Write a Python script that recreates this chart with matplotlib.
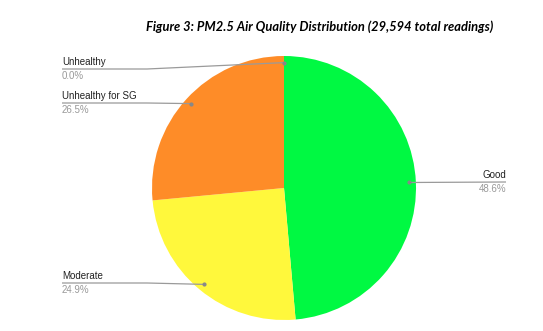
import numpy as np
import matplotlib
matplotlib.use("Agg")
import matplotlib.pyplot as plt

# PM2.5 air quality distribution, share of readings per category
categories = ["Good", "Moderate", "Unhealthy for SG", "Unhealthy"]
shares = [48.6, 24.9, 26.5, 0.0]
colors = ["#00f942", "#fff83c", "#fe8c28", "#e02020"]
title = "Figure 3: PM2.5 Air Quality Distribution (29,594 total readings)"

W, H = 543, 331
fig = plt.figure(figsize=(W / 100, H / 100), dpi=100)
ax = fig.add_axes([0, 0, 1, 1])

cx, cy, r = 284, H - 188, 132
wedges, _ = ax.pie(shares, colors=colors, startangle=90, counterclock=False,
                   center=(cx, cy), radius=r, frame=True,
                   wedgeprops=dict(linewidth=0))
ax.set_xlim(0, W)
ax.set_ylim(0, H)
ax.set_aspect("equal")
ax.axis("off")

# label positions (pixel rows of the text line)
label_rows = {"Good": 182, "Moderate": 283, "Unhealthy for SG": 103, "Unhealthy": 69}
line_col = "#9a9a9a"
for w, name, val in zip(wedges, categories, shares):
    mid = np.deg2rad((w.theta1 + w.theta2) / 2)
    px = cx + 0.95 * r * np.cos(mid)
    py = cy + 0.95 * r * np.sin(mid)
    ly = H - label_rows[name]
    if px > cx + 10:
        xs = [px, 506]
        ys = [py, ly]
        tx, ha = 506, "right"
    else:
        xs = [62, min(147, px), px]
        ys = [ly, ly, py]
        tx, ha = 62, "left"
    ax.plot(xs, ys, color=line_col, lw=0.9, solid_capstyle="butt")
    ax.plot([px], [py], "o", color="#888888", ms=2)
    ax.text(tx, ly + 2, name, ha=ha, va="bottom", fontsize=7,
            family="Liberation Sans", color="#222222")
    ax.text(tx, ly - 2, f"{val:.1f}%", ha=ha, va="top", fontsize=7,
            family="Liberation Sans", color="#999999")

fig.text(320 / W, 1 - 27 / H, title, ha="center", va="center", fontsize=9.3,
         family="Lato", fontweight="bold", fontstyle="italic")

fig.savefig("out.png", dpi=100)
